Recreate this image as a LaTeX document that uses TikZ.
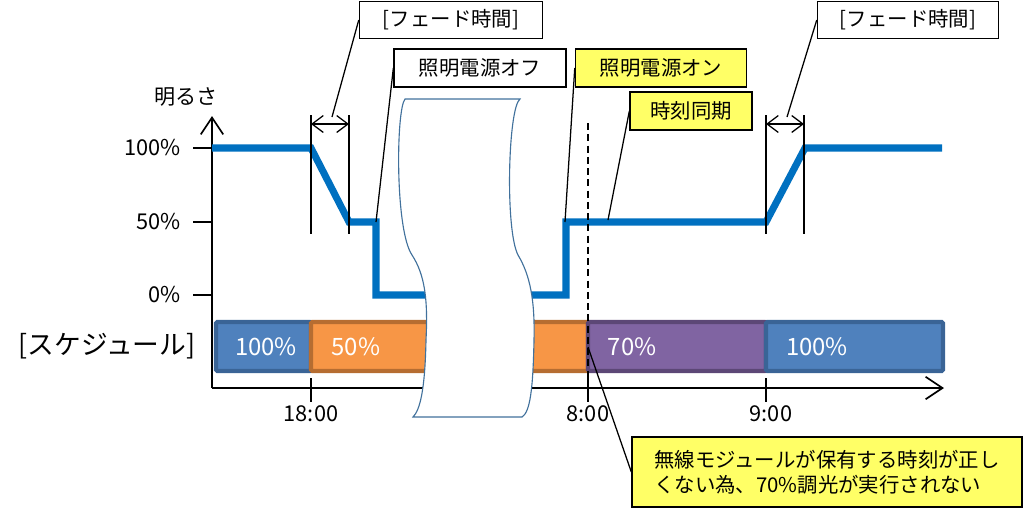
\documentclass[tikz,border=0pt]{standalone}
\usepackage{fontspec}
\setmainfont{Noto Sans CJK JP}
\usetikzlibrary{arrows.meta}
\definecolor{lineblue}{HTML}{0070C0}
\definecolor{schblue}{HTML}{4F81BD}
\definecolor{schblueD}{HTML}{3A6496}
\definecolor{schorange}{HTML}{F79646}
\definecolor{schorangeD}{HTML}{B66D31}
\definecolor{schpurple}{HTML}{8064A2}
\definecolor{schpurpleD}{HTML}{5C4776}
\definecolor{noteyellow}{HTML}{FFFF66}
\definecolor{breakedge}{HTML}{41719C}
\tikzset{
  callout/.style={draw,line width=0.9pt,minimum height=0.95cm,inner sep=2pt,
    font=\fontsize{14.5}{18}\selectfont},
  ticklbl/.style={font=\fontsize{15.5}{18}\selectfont},
  schlbl/.style={text=white,font=\fontsize{17}{18}\selectfont},
  thin/.style={line width=0.9pt},
  barb/.style={-{Straight Barb[length=12pt,width=16pt]}},
  fadearrow/.style={{Straight Barb[length=8pt,width=12pt]}-{Straight Barb[length=8pt,width=12pt]}}
}
\begin{document}
\begin{tikzpicture}[x=0.025cm,y=-0.025cm]
   \useasboundingbox (0,0) rectangle (1024,509);
   % axes
   \draw [thin,line width=1.2pt,barb] (212,388) -- (212,116);
   \draw [thin,line width=1.2pt,barb] (212,388) -- (944,388);
   \node (brightness) at (186,97) {\fontsize{15}{18}\selectfont 明るさ};
   \foreach \y/\t in {148/100\%,222/50\%,295/0\%} {
     \draw [thin,line width=1.2pt] (193,\y) -- (212,\y);
     \node [ticklbl,anchor=east] at (186,\y) {\t};
   }
   \foreach \x/\t in {311/18:00,588/8:00,766/9:00} {
     \draw [thin,line width=1.2pt] (\x,378) -- (\x,402);
   }
   \node [ticklbl] (t18) at (311,414) {18:00};
   \node [ticklbl] (t8) at (588,414) {8:00};
   \node [ticklbl] (t9) at (771,414) {9:00};
   % brightness curve
   \draw [lineblue,line width=5pt,line join=miter]
     (212,148) -- (311,148) -- (349,222) -- (376,222) -- (376,295)
     -- (566,295) -- (566,222) -- (766,222) -- (805,148) -- (942,148);
   % schedule
   \node (schedule) at (107,346) {\fontsize{19}{22}\selectfont [スケジュール]};
   \draw [fill=schblue,draw=schblueD,line width=3pt,rounded corners=1pt] (216,322) rectangle (311,371);
   \draw [fill=schorange,draw=schorangeD,line width=3pt,rounded corners=1pt] (311,322) rectangle (588,371);
   \draw [fill=schpurple,draw=schpurpleD,line width=3pt,rounded corners=1pt] (588,322) rectangle (766,371);
   \draw [fill=schblue,draw=schblueD,line width=3pt,rounded corners=1pt] (766,322) rectangle (943,371);
   \node [schlbl] (s100a) at (266,347) {100\%};
   \node [schlbl] (s50) at (356,347) {50\%};
   \node [schlbl] (s70) at (632,347) {70\%};
   \node [schlbl] (s100b) at (817,347) {100\%};
   % time break
   \draw [breakedge,fill=white,line width=0.8pt]
     (405,99) -- (520,99) .. controls (508,108) and (505,230) .. (518,255)
     .. controls (530,275) and (535,300) .. (534,340)
     .. controls (533,390) and (530,412) .. (522,417) -- (413,417)
     .. controls (420,410) and (425,390) .. (426,340)
     .. controls (428,300) and (425,275) .. (412,255)
     .. controls (395,230) and (396,110) .. (405,99) -- cycle;
   % time sync
   \draw [thin,dash pattern=on 5pt off 3pt] (588,123) -- (588,388);
   % fade time
   \draw [thin] (311,115) -- (311,234);
   \draw [thin] (349,115) -- (349,234);
   \draw [thin,fadearrow] (311,124) -- (349,124);
   \draw [thin] (766,115) -- (766,234);
   \draw [thin] (804,115) -- (804,234);
   \draw [thin,fadearrow] (766,124) -- (804,124);
   % callouts
   \node [callout,minimum width=4.58cm,minimum height=0.93cm,fill=white] (fadeL) at (451,20) {[フェード時間]};
   \node [callout,minimum width=4.53cm,minimum height=0.93cm,fill=white] (fadeR) at (908,20) {[フェード時間]};
   \node [callout,minimum width=4.3cm,fill=white] (off) at (480,68) {照明電源オフ};
   \node [callout,minimum width=4.28cm,fill=noteyellow] (on) at (661,68) {照明電源オン};
   \node [callout,minimum width=3.05cm,fill=noteyellow] (sync) at (691,111) {時刻同期};
   \node [callout,minimum width=9.75cm,minimum height=1.75cm,fill=noteyellow,align=left] (note) at (827,472)
     {無線モジュールが保有する時刻が正し\\くない為、70\%調光が実行されない};
   \coordinate (fL) at (332,117);
   \coordinate (fR) at (787,117);
   \coordinate (offpt) at (376,222);
   \coordinate (onpt) at (565,222);
   \coordinate (syncpt) at (608,220);
   \coordinate (notept) at (588,347);
   \draw [thin] (fadeL.west) -- (fL);
   \draw [thin] (fadeR.west) -- (fR);
   \draw [thin] (off.west) -- (offpt);
   \draw [thin] (on.west) -- (onpt);
   \draw [thin] (sync.west) -- (syncpt);
   \draw [thin] (note.west) -- (notept);
 \end{tikzpicture}
\end{document}
